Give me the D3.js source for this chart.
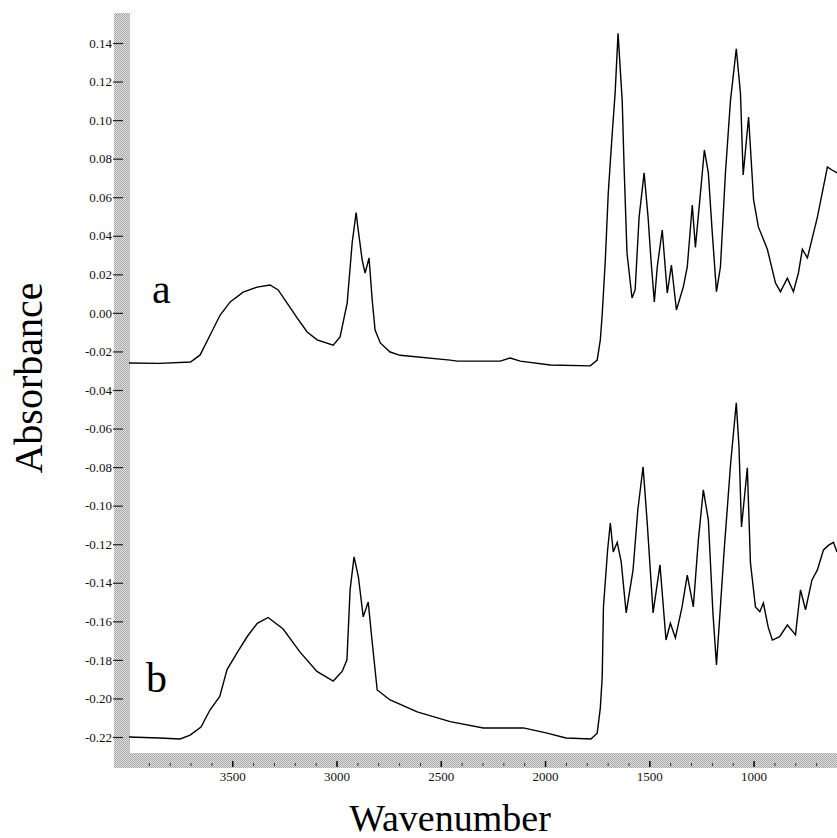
<!DOCTYPE html>
<html>
<head>
<meta charset="utf-8">
<script src="https://cdn.jsdelivr.net/npm/d3@7"></script>
<style>
  body { margin: 0; background: #fff; }
  text { font-family: "Liberation Serif", "Times New Roman", serif; }
</style>
</head>
<body>
<script>
// spectrum a (wavenumber, absorbance)
var wnA = [4000, 3850, 3700, 3654, 3606, 3558, 3510, 3448, 3381, 3319, 3280, 3237, 3189, 3141, 3093, 3016, 2983, 2949, 2925, 2906, 2896, 2877, 2863, 2844, 2829, 2815, 2790, 2743, 2695, 2455, 2421, 2215, 2167, 2119, 1975, 1783, 1750, 1735, 1726, 1711, 1697, 1678, 1664, 1650, 1630, 1621, 1607, 1583, 1568, 1549, 1525, 1506, 1492, 1476, 1462, 1438, 1414, 1394, 1370, 1337, 1318, 1294, 1279, 1255, 1236, 1217, 1198, 1178, 1159, 1135, 1111, 1083, 1063, 1050, 1024, 1000, 977, 934, 895, 871, 838, 809, 785, 766, 742, 694, 646, 622, 600];
var absA = [-0.026, -0.0262, -0.0255, -0.0218, -0.0115, -0.0011, 0.0057, 0.0108, 0.0134, 0.0145, 0.0119, 0.0051, -0.0026, -0.0099, -0.014, -0.0167, -0.0125, 0.0051, 0.0363, 0.052, 0.043, 0.0274, 0.0207, 0.0285, 0.0067, -0.0089, -0.0156, -0.0203, -0.022, -0.0245, -0.025, -0.025, -0.0234, -0.025, -0.027, -0.0275, -0.0245, -0.014, -0.001, 0.0274, 0.062, 0.093, 0.114, 0.145, 0.110, 0.0757, 0.031, 0.0077, 0.0119, 0.0497, 0.0726, 0.0497, 0.0274, 0.0057, 0.0238, 0.043, 0.0103, 0.0248, 0.0015, 0.0135, 0.0238, 0.056, 0.034, 0.062, 0.0845, 0.0726, 0.0414, 0.011, 0.0238, 0.0726, 0.110, 0.137, 0.114, 0.0715, 0.1016, 0.0586, 0.0446, 0.033, 0.0155, 0.011, 0.018, 0.011, 0.0207, 0.033, 0.0285, 0.0497, 0.0757, 0.074, 0.0726];

// spectrum b
var wnB = [4000, 3850, 3750, 3702, 3650, 3607, 3560, 3525, 3475, 3429, 3380, 3328, 3256, 3175, 3094, 3016, 2973, 2950, 2935, 2916, 2895, 2872, 2848, 2830, 2805, 2743, 2613, 2455, 2296, 2104, 1990, 1900, 1780, 1750, 1735, 1726, 1720, 1700, 1687, 1673, 1654, 1635, 1611, 1578, 1555, 1530, 1511, 1482, 1449, 1420, 1399, 1375, 1343, 1318, 1289, 1265, 1241, 1217, 1195, 1178, 1160, 1142, 1110, 1083, 1070, 1058, 1030, 1015, 991, 970, 953, 930, 910, 875, 838, 799, 775, 751, 720, 694, 665, 640, 617, 600];
var absB = [-0.220, -0.2205, -0.221, -0.219, -0.2148, -0.206, -0.199, -0.185, -0.176, -0.168, -0.161, -0.158, -0.164, -0.176, -0.186, -0.191, -0.186, -0.18, -0.1437, -0.1266, -0.137, -0.1577, -0.150, -0.1697, -0.1956, -0.2008, -0.207, -0.212, -0.2153, -0.2153, -0.218, -0.2205, -0.221, -0.218, -0.205, -0.189, -0.1525, -0.123, -0.109, -0.124, -0.119, -0.129, -0.1556, -0.1333, -0.102, -0.0799, -0.1074, -0.1556, -0.1307, -0.1697, -0.161, -0.1686, -0.1525, -0.136, -0.1525, -0.118, -0.0918, -0.1074, -0.1556, -0.1826, -0.154, -0.1245, -0.078, -0.0467, -0.0695, -0.111, -0.0804, -0.1297, -0.1525, -0.155, -0.1505, -0.163, -0.1697, -0.168, -0.1619, -0.167, -0.1437, -0.154, -0.1385, -0.1333, -0.123, -0.1205, -0.119, -0.124];

var yTicks = [0.14, 0.12, 0.10, 0.08, 0.06, 0.04, 0.02, 0.00, -0.02, -0.04, -0.06, -0.08, -0.10, -0.12, -0.14, -0.16, -0.18, -0.20, -0.22];
var xTicks = [3500, 3000, 2500, 2000, 1500, 1000];
var xMinor = d3.range(3900, 600, -100);

var w = 837, h = 838;
var serif = '"Liberation Serif", "Times New Roman", serif';

var svg = d3.select("body")
    .append("svg")
    .attr("width", w)
    .attr("height", h);

// halftone grey used for the axis strips
var defs = svg.append("defs");
var pat = defs.append("pattern")
    .attr("id", "dither")
    .attr("width", 2)
    .attr("height", 2)
    .attr("patternUnits", "userSpaceOnUse");
pat.append("rect").attr("width", 2).attr("height", 2).style("fill", "#e0e0e0");
pat.append("rect").attr("width", 1).attr("height", 1).style("fill", "#a8a8a8");
pat.append("rect").attr("x", 1).attr("y", 1).attr("width", 1).attr("height", 1).style("fill", "#a8a8a8");

defs.append("clipPath")
    .attr("id", "plotclip")
    .append("rect")
    .attr("x", 129).attr("y", 0)
    .attr("width", w - 129).attr("height", 753);

var x = d3.scaleLinear()
    .domain([4000, 600])
    .range([128, 837]);

var y = d3.scaleLinear()
    .domain([0.14, -0.22])
    .range([43, 737]);

// strips
svg.append("rect")
    .attr("x", 114).attr("y", 13)
    .attr("width", 16).attr("height", 755)
    .style("fill", "url(#dither)");
svg.append("rect")
    .attr("x", 114).attr("y", 753)
    .attr("width", w - 114).attr("height", 15)
    .style("fill", "url(#dither)");

// y axis
var yAxis = d3.axisLeft(y)
    .tickValues(yTicks)
    .tickSize(10)
    .tickPadding(1)
    .tickFormat(function(d){ return d.toFixed(2); });

var gy = svg.append("g")
    .attr("transform", "translate(123,0)")
    .call(yAxis)
    .attr("font-family", serif);
gy.select(".domain").remove();
gy.selectAll("line").style("stroke", "#222").style("stroke-width", 1.2);
gy.selectAll("text")
    .style("font-family", serif)
    .style("font-size", "13px")
    .style("fill", "#111");

// x axis, minor then major
var gxm = svg.append("g")
    .attr("transform", "translate(0,763)")
    .call(d3.axisBottom(x).tickValues(xMinor).tickSize(3).tickFormat(""));
gxm.select(".domain").remove();
gxm.selectAll("line").style("stroke", "#333");

var gx = svg.append("g")
    .attr("transform", "translate(0,761)")
    .call(d3.axisBottom(x).tickValues(xTicks).tickSize(6).tickPadding(5).tickFormat(d3.format("d")))
    .attr("font-family", serif);
gx.select(".domain").remove();
gx.selectAll("line").style("stroke", "#111").style("stroke-width", 1.5);
gx.selectAll("text")
    .style("font-family", serif)
    .style("font-size", "13px")
    .style("fill", "#111");

// spectra
var line = d3.line()
    .x(function(d){ return x(d[0]); })
    .y(function(d){ return y(d[1]); });

var dataA = d3.zip(wnA, absA);
var dataB = d3.zip(wnB, absB);

svg.append("g")
    .attr("clip-path", "url(#plotclip)")
    .selectAll(".spectrum")
    .data([dataA, dataB])
    .enter()
    .append("path")
    .attr("class", "spectrum")
    .attr("d", line)
    .style("fill", "none")
    .style("stroke", "#000")
    .style("stroke-width", 1.4)
    .style("stroke-linejoin", "miter");

// curve letters
svg.append("text")
    .attr("x", 152).attr("y", 303)
    .style("font-size", "42px")
    .text("a");
svg.append("text")
    .attr("x", 146).attr("y", 692)
    .style("font-size", "42px")
    .text("b");

// axis titles
svg.append("text")
    .attr("text-anchor", "middle")
    .attr("transform", "translate(42,378) rotate(-90)")
    .style("font-size", "40px")
    .text("Absorbance");

svg.append("text")
    .attr("text-anchor", "middle")
    .attr("x", 450).attr("y", 831)
    .style("font-size", "38px")
    .text("Wavenumber");
</script>
</body>
</html>
